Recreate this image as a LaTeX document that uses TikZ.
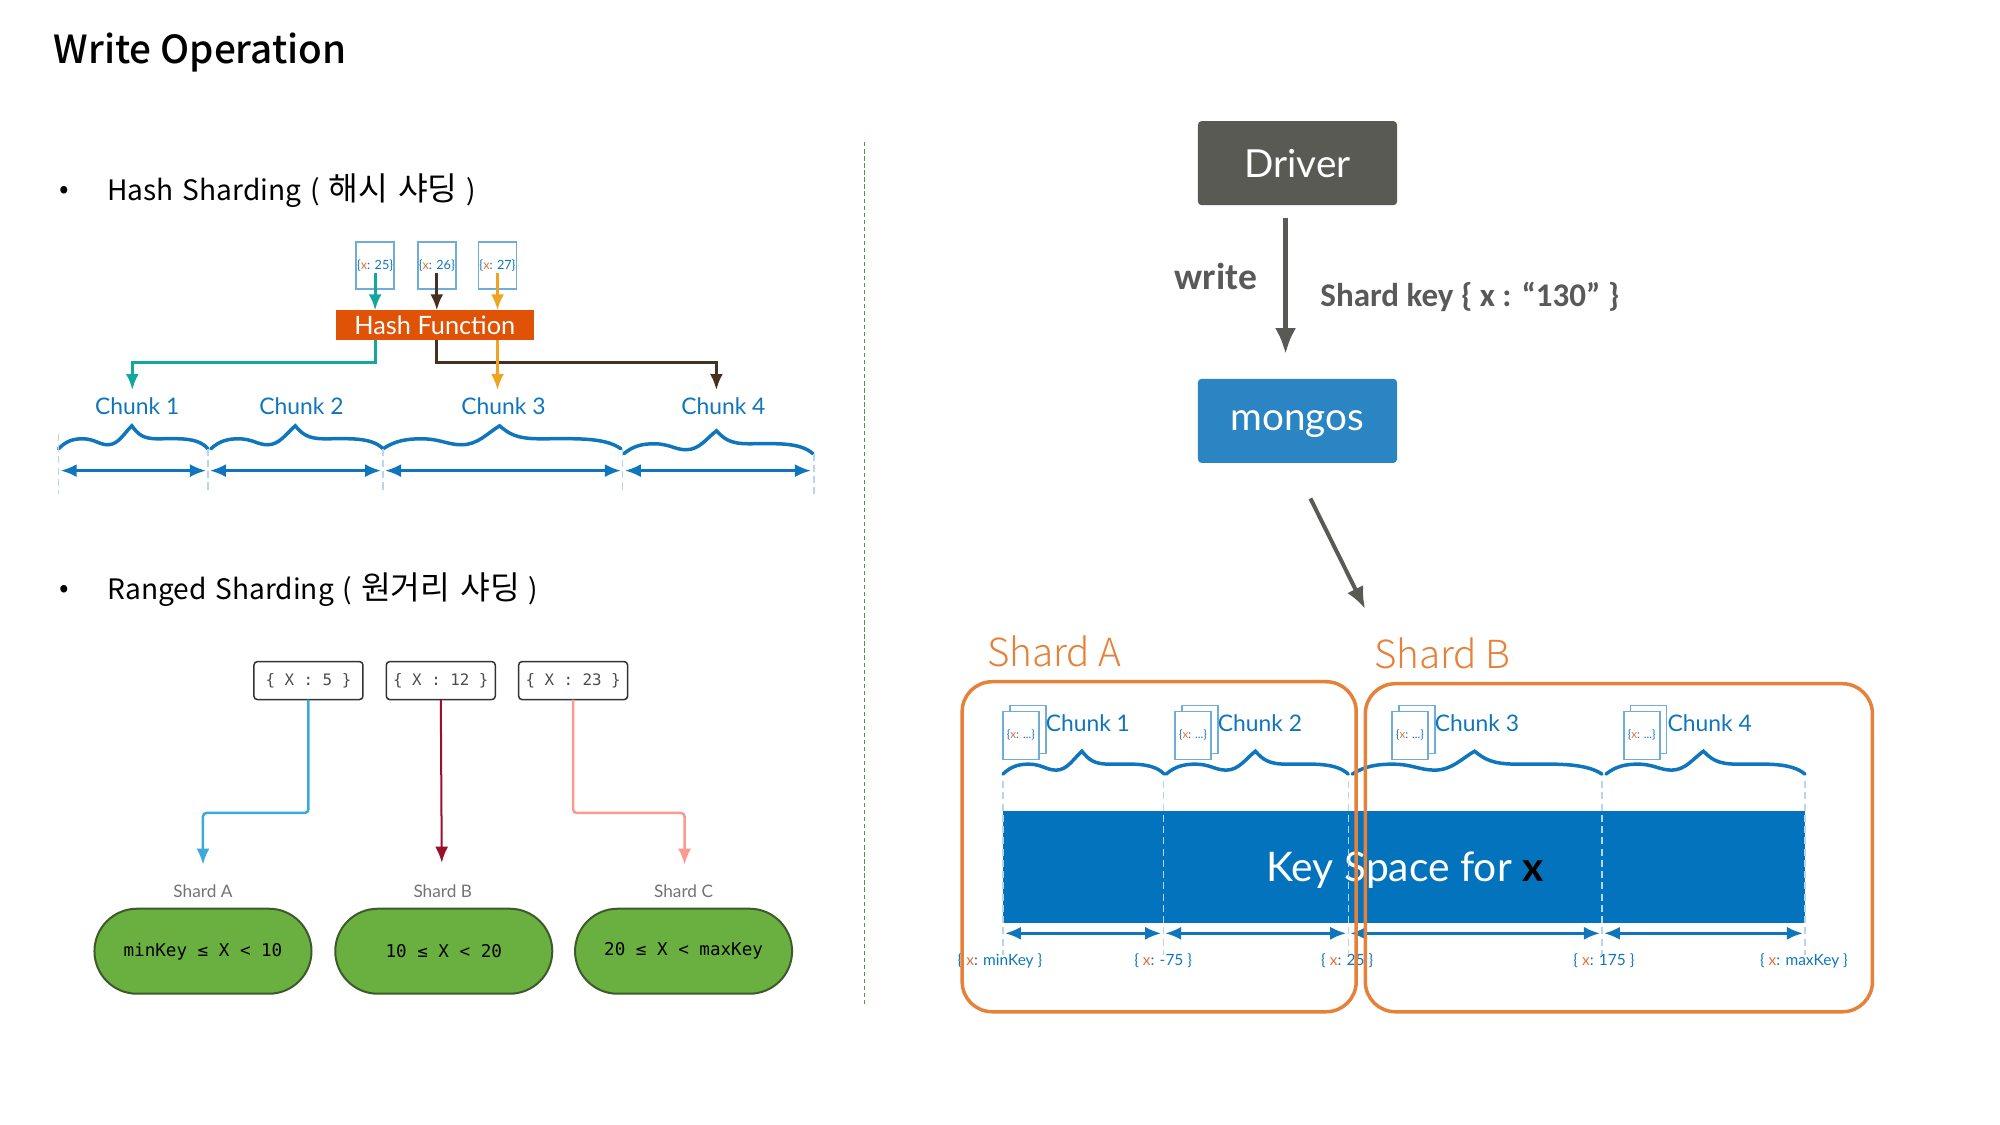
\documentclass[tikz,border=0pt]{standalone}
\usepackage{fontspec}
\setmainfont{Noto Sans CJK KR}
\newfontfamily\titlefont{Noto Sans CJK KR Medium}
\newfontfamily\thinfont{Noto Sans CJK KR Light}
\newfontfamily\bodyfont[WordSpace=1.4]{Noto Sans CJK KR}
\newfontfamily\gillfont{Lato}
\newfontfamily\califont{Carlito}
\newfontfamily\codefont{DejaVu Sans Mono}
\usetikzlibrary{arrows.meta,shapes.misc}

\definecolor{chunkblue}{HTML}{0F75BC}
\definecolor{keyblue}{HTML}{0473BD}
\definecolor{shardorange}{HTML}{E58138}
\definecolor{tagorange}{HTML}{E8703A}
\definecolor{hashfill}{HTML}{E05206}
\definecolor{rangefill}{HTML}{6AB040}
\definecolor{rangeline}{HTML}{3C5A2A}
\definecolor{drivergray}{HTML}{5A5A55}
\definecolor{mongosblue}{HTML}{2B85C2}
\definecolor{hashteal}{HTML}{13A89E}
\definecolor{hashbrown}{HTML}{46301F}
\definecolor{hashamber}{HTML}{F0A31E}
\definecolor{rangeblue}{HTML}{3CA9DE}
\definecolor{rangered}{HTML}{9B0E2C}
\definecolor{rangesalmon}{HTML}{FB9A8E}
\definecolor{divgreen}{HTML}{4A9A4A}
\newcommand{\xtag}{\textcolor{tagorange}{x}}
\newcommand{\kor}[1]{{\fontsize{9.2pt}{10pt}\selectfont #1}}
% curly bracket over one chunk: left end, width
\newcommand{\chunkbrace}[3]{%
	\draw[chunkblue,line width=.035cm,line cap=round,shift={(#1,#2)},xscale=#3]
		(0,0) .. controls (.05,-8) and (.1,-10) .. (.16,-10)
		.. controls (.24,-10) and (.27,-4) .. (.33,-4)
		.. controls (.40,-4) and (.44,-16) .. (.49,-23)
		.. controls (.53,-15) and (.56,-10) .. (.66,-10)
		.. controls (.8,-10) and (.93,-12) .. (1,0);
}

\begin{document}
\begin{tikzpicture} [
	   x=0.00995cm, y=-0.00995cm,
	   every node/.style={inner sep=0pt, outer sep=0pt},
	   title/.style    = { font=\titlefont\fontsize{11pt}{13pt}\selectfont },
	   section/.style  = { anchor=west, font=\bodyfont\fontsize{8pt}{10pt}\selectfont },
	   chunk/.style    = { text=chunkblue, font=\gillfont\fontsize{6.5pt}{8pt}\selectfont },
	   bound/.style    = { text=chunkblue, font=\gillfont\fontsize{4.4pt}{5pt}\selectfont },
	   doc/.style      = { rectangle, draw=chunkblue!60, fill=white, line width=.015cm, text=chunkblue, font=\gillfont\fontsize{3.3pt}{4pt}\selectfont },
	   docpage/.style  = { doc, minimum width=.36cm, minimum height=.48cm },
	   hashval/.style  = { doc, minimum width=.38cm, minimum height=.47cm, font=\gillfont\fontsize{3.6pt}{4pt}\selectfont },
	   hashbox/.style  = { rectangle, fill=hashfill, minimum width=1.98cm, minimum height=.30cm, text=white, font=\gillfont\fontsize{7.2pt}{8pt}\selectfont },
	   query/.style    = { rectangle, draw=black!80, rounded corners=1pt, line width=.015cm, minimum width=1.09cm, minimum height=.38cm, text=black!70, font=\codefont\fontsize{4.5pt}{5pt}\selectfont },
	   rangebox/.style = { rounded rectangle, draw=rangeline, fill=rangefill, line width=.02cm, minimum width=2.17cm, minimum height=.85cm, font=\codefont\fontsize{5pt}{6pt}\selectfont },
	   shardtag/.style = { text=black!55, font=\gillfont\fontsize{4.9pt}{6pt}\selectfont },
	   block/.style    = { rectangle, rounded corners=1pt, minimum width=1.99cm, minimum height=.84cm, text depth=0pt, text=white, font=\gillfont\fontsize{11pt}{12pt}\selectfont },
	   note/.style     = { text=black!65, font=\califont\bfseries\fontsize{9.4pt}{10pt}\selectfont },
	   shardbox/.style = { rectangle, draw=shardorange, rounded corners=.3cm, line width=.035cm },
	   shardname/.style= { text=shardorange, font=\thinfont\fontsize{11pt}{13pt}\selectfont },
	   line/.style     = { line width=#1, -{Latex[length=.16cm,width=.13cm]} },
	   line/.default   = .03cm,
	   span/.style     = { chunkblue, line width=.025cm, {Latex[length=.16cm,width=.13cm]}-{Latex[length=.16cm,width=.13cm]}, shorten <=.02cm, shorten >=.02cm },
	   cut/.style      = { chunkblue!30, line width=.012cm, dash pattern=on 2pt off 1.2pt },
	 ]
	\useasboundingbox (0,0) rectangle (2010.05,1130.65);

	\node [title,anchor=west] (head) at (54,53) {Write Operation};

	% left side, hash
	\node [section] (dot1) at (60,193) {•};
	\node [section] (sec1) at (108,192) {Hash Sharding ( \kor{해시 샤딩} )};

	\node [hashval] (valA) at (377,267) {\{\xtag: 25\}};
	\node [hashval] (valB) at (439,267) {\{\xtag: 26\}};
	\node [hashval] (valC) at (500,267) {\{\xtag: 27\}};
	\node [hashbox] (hash) at (437,327) {Hash Function};

	\coordinate (turnA) at (377,364);
	\coordinate (turnB) at (439,364);
	\coordinate (tipA) at (133,392);
	\coordinate (tipB) at (720,392);
	\coordinate (tipC) at (500,392);

	\draw[line,hashteal] ([yshift=.16cm]valA.south) -- (valA |- hash.north);
	\draw[line,hashbrown] ([yshift=.16cm]valB.south) -- (valB |- hash.north);
	\draw[line,hashamber] ([yshift=.16cm]valC.south) -- (valC |- hash.north);
	\draw[line,hashteal] (hash.south -| turnA) -- (turnA) -| (tipA);
	\draw[line,hashbrown] (hash.south -| turnB) -- (turnB) -| (tipB);
	\draw[line,hashamber] (hash.south -| tipC) -- (tipC);

	\node [chunk] (lblA) at (138,408) {Chunk 1};
	\node [chunk] (lblB) at (303,408) {Chunk 2};
	\node [chunk] (lblC) at (506,408) {Chunk 3};
	\node [chunk] (lblD) at (727,408) {Chunk 4};

	\chunkbrace{59}{451}{150}
	\chunkbrace{212}{451}{173}
	\chunkbrace{385}{451}{239}
	\chunkbrace{627}{456}{190}

	\coordinate (h0) at (59,473);
	\coordinate (h1) at (209,473);
	\coordinate (h2) at (385,473);
	\coordinate (h3) at (626,473);
	\coordinate (h4) at (817,473);
	\draw[cut] (59,436) -- (59,496);
	\draw[cut] (209,451) -- (209,496);
	\draw[cut] (385,451) -- (385,496);
	\draw[cut] (626,451) -- (626,496);
	\draw[cut] (818,456) -- (818,496);
	\draw[span] (h0) -- (h1);
	\draw[span] (h1) -- (h2);
	\draw[span] (h2) -- (h3);
	\draw[span] (h3) -- (h4);

	% left side, ranged
	\node [section] (dot2) at (60,594) {•};
	\node [section] (sec2) at (108,593) {Ranged Sharding ( \kor{원거리 샤딩} )};

	\node [query] (qryA) at (310,684) {\{ X : 5 \}};
	\node [query] (qryB) at (443,684) {\{ X : 12 \}};
	\node [query] (qryC) at (576,684) {\{ X : 23 \}};

	\node [shardtag] (tagA) at (204,896) {Shard A};
	\node [shardtag] (tagB) at (445,896) {Shard B};
	\node [shardtag] (tagC) at (687,896) {Shard C};
	\node [rangebox] (rngA) at (204,956) {minKey ≤ X < 10};
	\node [rangebox] (rngB) at (446,956) {10 ≤ X < 20};
	\node [rangebox] (rngC) at (687,956) {20 ≤ X < maxKey};

	\coordinate (bendA) at (310,817);
	\coordinate (bendC) at (576,817);
	\coordinate (endA) at (204,869);
	\coordinate (endB) at (444,867);
	\coordinate (endC) at (688,869);
	\draw[line=.025cm,rangeblue,rounded corners=1pt] (qryA.south) -- (bendA) -| (endA);
	\draw[line=.02cm,rangered] (qryB.south) -- (endB);
	\draw[line=.025cm,rangesalmon,rounded corners=1pt] (qryC.south) -- (bendC) -| (endC);

	% divider
	\coordinate (divtop) at (869,143);
	\coordinate (divbot) at (869,1012);
	\draw[divgreen,line width=.015cm,dash pattern=on 1.2pt off .8pt] (divtop) -- (divbot);

	% right side
	\node [block,fill=drivergray] (driver) at (1304,164) {Driver};
	\node [block,fill=mongosblue] (mongos) at (1304,423) {mongos};

	\coordinate (wrstart) at (1292,219);
	\coordinate (wrend) at (1292,356);
	\coordinate (rtstart) at (1317,501);
	\coordinate (rtend) at (1372,612);
	\draw[drivergray,line width=.05cm,-{Latex[length=.26cm,width=.21cm]}] (wrstart) -- (wrend);
	\draw[drivergray,line width=.04cm,-{Latex[length=.22cm,width=.18cm]}] (rtstart) -- (rtend);
	\node [note,font=\califont\bfseries\fontsize{10.7pt}{12pt}\selectfont] (wr) at (1222,278) {write};
	\node [note,anchor=west] (key) at (1327,298) {Shard key \{ x : “130” \}};

	\node [shardname,anchor=west] (nameA) at (992,655) {Shard A};
	\node [shardname,anchor=west] (nameB) at (1381,657) {Shard B};

	\chunkbrace{1008}{778}{162}
	\chunkbrace{1172}{778}{183}
	\chunkbrace{1359}{778}{251}
	\chunkbrace{1614}{778}{200}

	\node [rectangle,fill=keyblue,minimum width=8.02cm,minimum height=1.12cm] (space) at (1411,871) {};
	\node [text=white,font=\gillfont\fontsize{11.6pt}{13pt}\selectfont] (spacetxt) at (1412,875) {Key Space for \textcolor{black}{\bfseries x}};

	\draw[cut] (1008,785) -- (1008,960);
	\draw[cut] (1169,785) -- (1169,960);
	\draw[cut] (1355,785) -- (1355,960);
	\draw[cut] (1610,785) -- (1610,960);
	\draw[cut] (1814,785) -- (1814,960);

	\coordinate (k0) at (1008,938);
	\coordinate (k1) at (1169,938);
	\coordinate (k2) at (1355,938);
	\coordinate (k3) at (1610,938);
	\coordinate (k4) at (1814,938);
	\draw[span] (k0) -- (k1);
	\draw[span] (k1) -- (k2);
	\draw[span] (k2) -- (k3);
	\draw[span] (k3) -- (k4);

	\node [docpage] (backA) at (1033,733) {};
	\node [docpage] (docA) at (1026,739) {\{\xtag: ...\}};
	\node [docpage] (backB) at (1206,733) {};
	\node [docpage] (docB) at (1199,739) {\{\xtag: ...\}};
	\node [docpage] (backC) at (1424,733) {};
	\node [docpage] (docC) at (1417,739) {\{\xtag: ...\}};
	\node [docpage] (backD) at (1657,733) {};
	\node [docpage] (docD) at (1650,739) {\{\xtag: ...\}};

	\node [chunk,anchor=west] (chkA) at (1051,727) {Chunk 1};
	\node [chunk,anchor=west] (chkB) at (1224,727) {Chunk 2};
	\node [chunk,anchor=west] (chkC) at (1442,727) {Chunk 3};
	\node [chunk,anchor=west] (chkD) at (1676,727) {Chunk 4};

	\node [bound] (minb) at (1005,966) {\{ \xtag: minKey \}};
	\node [bound] (negb) at (1169,966) {\{ \xtag: -75 \}};
	\node [bound] (midb) at (1354,966) {\{ \xtag: 25 \}};
	\node [bound] (posb) at (1612,966) {\{ \xtag: 175 \}};
	\node [bound] (maxb) at (1813,966) {\{ \xtag: maxKey \}};

	\node [shardbox,minimum width=3.94cm,minimum height=3.30cm] (shardA) at (1165,851) {};
	\node [shardbox,minimum width=5.07cm,minimum height=3.28cm] (shardB) at (1627,852) {};
\end{tikzpicture}
\end{document}
